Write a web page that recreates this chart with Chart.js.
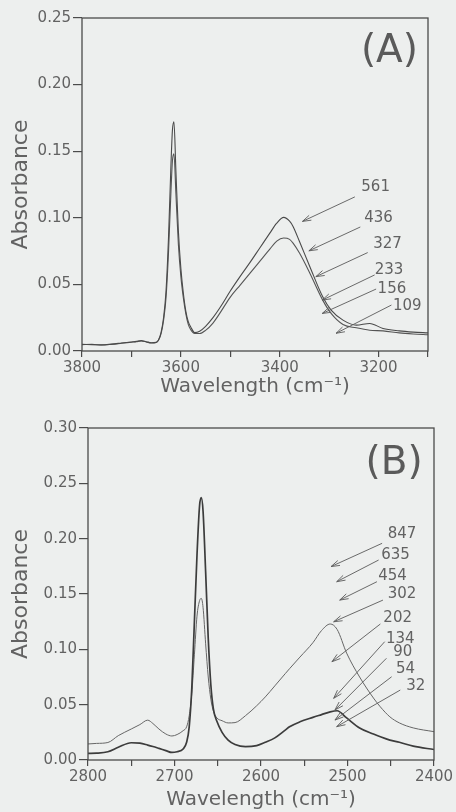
<!DOCTYPE html>
<html>
<head>
<meta charset="utf-8">
<script src="https://cdn.jsdelivr.net/npm/chart.js@4.4.1/dist/chart.umd.min.js"></script>
<style>
  html, body { margin: 0; padding: 0; background: #edefee; }
  body { width: 456px; height: 812px; position: relative; overflow: hidden; }
  .panel { position: absolute; left: 0; }
  #wrapA { top: 0; width: 456px; height: 400px; }
  #wrapB { top: 400px; width: 456px; height: 412px; }
</style>
</head>
<body>
<div class="panel" id="wrapA"><canvas id="chartA" width="456" height="400"></canvas></div>
<div class="panel" id="wrapB"><canvas id="chartB" width="456" height="412"></canvas></div>
<script>
// ---- Panel A: O-H stretching region ----
const wavenumbersA = [3800,3780,3760,3740,3720,3700,3690,3680,3670,3660,3650,3645,3640,3635,3630,3625,3620,3617,3614,3610,3605,3600,3595,3590,3585,3580,3572,3562,3550,3535,3520,3500,3480,3460,3440,3420,3406,3392,3380,3373,3360,3339,3313,3296,3272,3245,3218,3191,3158,3130,3100];
const absorbanceA1 = [.0050,.0048,.0046,.0052,.0060,.0068,.0072,.0078,.0070,.0062,.0065,.0085,.014,.025,.045,.085,.140,.166,.172,.135,.090,.062,.0435,.030,.022,.018,.0138,.0148,.0185,.0250,.0330,.0450,.0560,.0665,.0775,.0885,.0960,.1003,.0975,.0935,.0822,.0633,.0407,.0307,.0232,.0194,.0207,.0169,.0151,.0142,.0136];
const absorbanceA2 = [.0048,.0050,.0045,.0050,.0058,.0066,.0070,.0075,.0068,.0060,.0064,.0082,.013,.023,.040,.074,.120,.143,.148,.118,.080,.056,.040,.028,.020,.016,.0132,.0131,.0155,.0210,.0290,.0405,.0495,.0585,.0675,.0765,.0825,.0848,.0838,.0810,.0735,.0584,.0382,.0282,.0199,.0174,.0156,.0151,.0136,.0128,.0122];
const yTicksA = [0, 0.05, 0.10, 0.15, 0.20, 0.25];
const xLabelsA = [3800, 3600, 3400, 3200];
const calloutsA = [
  { text: '561', at: [3206, 0.1238], from: [3248, 0.1157], to: [3354, 0.0973] },
  { text: '436', at: [3200, 0.1005], from: [3237, 0.0931], to: [3341, 0.0752] },
  { text: '327', at: [3182, 0.0812], from: [3222, 0.0739], to: [3327, 0.0558] },
  { text: '233', at: [3179, 0.0612], from: [3208, 0.0571], to: [3314, 0.0382] },
  { text: '156', at: [3173, 0.0473], from: [3205, 0.0465], to: [3314, 0.0282] },
  { text: '109', at: [3142, 0.0348], from: [3174, 0.0345], to: [3286, 0.0133] }
];

// ---- Panel B: O-D stretching region ----
const wavenumbersB = [2800,2790,2777,2765,2750,2740,2731,2725,2718,2710,2703,2697,2690,2686,2683,2680,2677,2674,2671,2669,2667,2664,2661,2658,2655,2651,2645,2638,2630,2618,2605,2595,2584,2572,2567,2555,2540,2530,2520,2512,2501,2486,2470,2462,2451,2440,2424,2400];
const absorbanceB1 = [.0060,.0062,.0075,.0115,.0156,.0152,.0135,.0122,.0105,.0085,.0068,.0075,.0100,.0160,.0300,.0650,.1250,.1850,.2300,.2370,.2250,.1700,.1100,.0680,.0460,.0350,.0250,.0180,.0140,.0120,.0130,.0160,.0200,.0270,.0300,.0345,.0385,.0410,.0435,.0445,.0380,.0290,.0235,.0210,.0180,.0160,.0125,.0095];
const absorbanceB2 = [.0145,.0150,.0158,.0220,.0280,.0320,.0360,.0330,.0280,.0235,.0217,.0230,.0265,.0300,.0400,.0600,.0950,.1300,.1440,.1460,.1380,.1050,.0750,.0550,.0440,.0380,.0355,.0335,.0338,.0400,.0490,.0570,.0670,.0780,.0825,.0930,.1060,.1170,.1229,.1180,.0966,.0750,.0560,.0480,.0390,.0335,.0290,.0256];
const yTicksB = [0, 0.05, 0.10, 0.15, 0.20, 0.25, 0.30];
const xLabelsB = [2800, 2700, 2600, 2500, 2400];
const calloutsB = [
  { text: '847', at: [2437, 0.2051], from: [2460, 0.1958], to: [2519, 0.1748] },
  { text: '635', at: [2444.5, 0.1859], from: [2464, 0.1807], to: [2512.5, 0.1611] },
  { text: '454', at: [2448, 0.1667], from: [2466, 0.1611], to: [2509, 0.1445] },
  { text: '302', at: [2437, 0.1506], from: [2459, 0.1445], to: [2516, 0.1249] },
  { text: '202', at: [2442, 0.1292], from: [2462, 0.1229], to: [2518, 0.0888] },
  { text: '134', at: [2439, 0.1104], from: [2457, 0.1069], to: [2516, 0.0557] },
  { text: '90',  at: [2436, 0.0983], from: [2455, 0.0919], to: [2514.5, 0.0452] },
  { text: '54',  at: [2433, 0.0828], from: [2449, 0.0752], to: [2514.5, 0.0361] },
  { text: '32',  at: [2421, 0.0673], from: [2439, 0.0632], to: [2512.5, 0.0301] }
];

const FONT = "'DejaVu Sans', 'Liberation Sans', sans-serif";
const INK = '#4b4b4b';
const TEXT = '#626262';

function toPoints(xs, ys) {
  return xs.map((x, i) => ({ x: x, y: ys[i] }));
}

// Closed frame around the plotting area
const framePlugin = {
  id: 'frame',
  afterDatasetsDraw(chart) {
    const { ctx, chartArea: a } = chart;
    ctx.save();
    ctx.strokeStyle = INK;
    ctx.lineWidth = 1.3;
    ctx.strokeRect(a.left, a.top, a.right - a.left, a.bottom - a.top);
    ctx.restore();
  }
};

// Numbered arrows and the panel letter
const calloutPlugin = {
  id: 'callouts',
  afterDraw(chart, args, opts) {
    const { ctx } = chart;
    const sx = chart.scales.x, sy = chart.scales.y;
    const px = p => [sx.getPixelForValue(p[0]), sy.getPixelForValue(p[1])];
    ctx.save();
    ctx.strokeStyle = '#5a5a5a';
    ctx.fillStyle = TEXT;
    ctx.lineWidth = 0.9;
    ctx.font = '15px ' + FONT;
    ctx.textAlign = 'center';
    ctx.textBaseline = 'middle';
    (opts.items || []).forEach(c => {
      const [tx, ty] = px(c.at);
      ctx.fillText(c.text, tx, ty + 1);
      const [x0, y0] = px(c.from);
      const [x1, y1] = px(c.to);
      ctx.beginPath();
      ctx.moveTo(x0, y0);
      ctx.lineTo(x1, y1);
      const ang = Math.atan2(y1 - y0, x1 - x0);
      const L = 9, w = 0.3;
      ctx.moveTo(x1 - L * Math.cos(ang - w), y1 - L * Math.sin(ang - w));
      ctx.lineTo(x1, y1);
      ctx.lineTo(x1 - L * Math.cos(ang + w), y1 - L * Math.sin(ang + w));
      ctx.stroke();
    });
    if (opts.letter) {
      const [lx, ly] = px(opts.letter.at);
      ctx.font = '39px ' + FONT;
      ctx.fillStyle = '#5a5a5a';
      ctx.fillText(opts.letter.text, lx, ly + 1);
    }
    ctx.restore();
  }
};

function makePanel(canvasId, cfg) {
  return new Chart(document.getElementById(canvasId), {
    type: 'line',
    data: {
      datasets: cfg.series.map(s => ({
        data: toPoints(cfg.xs, s.ys),
        borderColor: s.color,
        borderWidth: s.width,
        pointRadius: 0,
        fill: false,
        cubicInterpolationMode: 'monotone'
      }))
    },
    options: {
      responsive: false,
      animation: false,
      events: [],
      layout: { padding: cfg.padding },
      plugins: {
        legend: { display: false },
        tooltip: { enabled: false },
        callouts: { items: cfg.callouts, letter: cfg.letter }
      },
      scales: {
        x: {
          type: 'linear',
          reverse: true,
          min: cfg.xMin,
          max: cfg.xMax,
          afterFit: s => { s.height = cfg.xAxisHeight; },
          border: { display: false },
          grid: { drawOnChartArea: false, drawTicks: true, tickLength: 6, color: INK, tickColor: INK, lineWidth: 1.2 },
          ticks: {
            stepSize: cfg.xStep,
            autoSkip: false,
            maxRotation: 0,
            padding: 2,
            color: TEXT,
            font: { family: FONT, size: 15 },
            callback: v => (cfg.xLabels.includes(v) ? String(v) : '')
          },
          title: {
            display: true,
            text: 'Wavelength (cm\u207B\u00B9)',
            color: TEXT,
            font: { family: FONT, size: 20 },
            padding: { top: 0, bottom: cfg.xTitlePad }
          }
        },
        y: {
          type: 'linear',
          min: 0,
          max: cfg.yTicks[cfg.yTicks.length - 1],
          afterFit: s => { s.width = cfg.yAxisWidth; },
          afterBuildTicks: s => { s.ticks = cfg.yTicks.map(v => ({ value: v })); },
          border: { display: false },
          grid: { drawOnChartArea: false, drawTicks: true, tickLength: 9, color: INK, tickColor: INK, lineWidth: 1.2 },
          ticks: {
            padding: 2,
            color: TEXT,
            font: { family: FONT, size: 15 },
            callback: v => Number(v).toFixed(2)
          },
          title: {
            display: true,
            text: 'Absorbance',
            color: TEXT,
            font: { family: FONT, size: 22 },
            padding: { top: 8, bottom: 0 }
          }
        }
      }
    },
    plugins: [framePlugin, calloutPlugin]
  });
}

makePanel('chartA', {
  xs: wavenumbersA,
  series: [
    { ys: absorbanceA1, color: '#4a4a4a', width: 1.1 },
    { ys: absorbanceA2, color: '#555555', width: 1.1 }
  ],
  xMin: 3100, xMax: 3800, xStep: 100, xLabels: xLabelsA,
  yTicks: yTicksA,
  padding: { left: 0, right: 28, top: 18, bottom: 0 },
  yAxisWidth: 82, xAxisHeight: 49, xTitlePad: 1,
  callouts: calloutsA,
  letter: { text: '(A)', at: [3178, 0.2253] }
});

makePanel('chartB', {
  xs: wavenumbersB,
  series: [
    { ys: absorbanceB1, color: '#3c3c3c', width: 1.7 },
    { ys: absorbanceB2, color: '#666666', width: 1.0 }
  ],
  xMin: 2400, xMax: 2800, xStep: 50, xLabels: xLabelsB,
  yTicks: yTicksB,
  padding: { left: 0, right: 22, top: 28, bottom: 0 },
  yAxisWidth: 88, xAxisHeight: 52, xTitlePad: 0,
  callouts: calloutsB,
  letter: { text: '(B)', at: [2446, 0.2687] }
});
</script>
</body>
</html>
